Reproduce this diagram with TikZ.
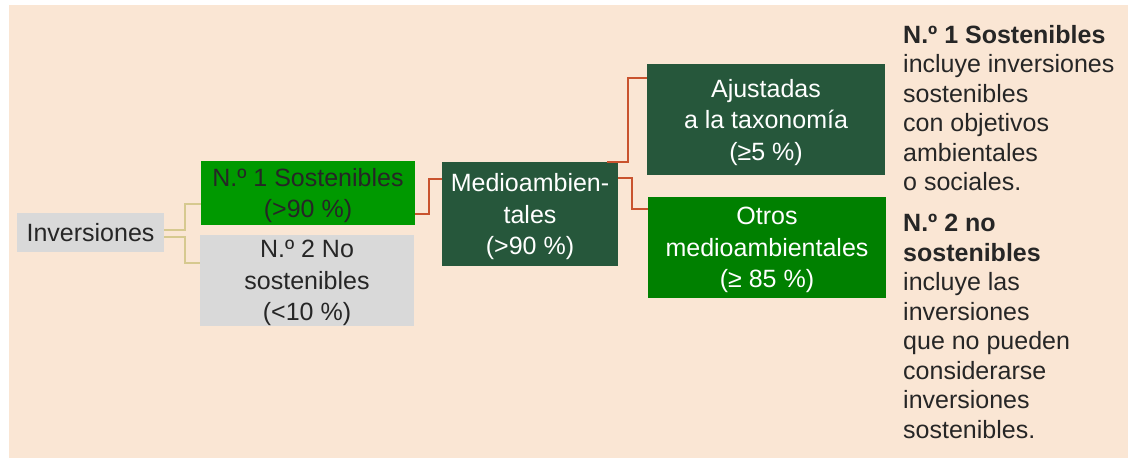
\documentclass[tikz,border=0pt]{standalone}
\usepackage{fontspec}
\setmainfont{Liberation Sans}
\usetikzlibrary{positioning}
\definecolor{peach}{HTML}{FAE6D4}
\definecolor{boxgrey}{HTML}{D9D9D9}
\definecolor{textdark}{HTML}{262626}
\definecolor{brightgreen}{HTML}{009900}
\definecolor{darkgreen}{HTML}{26573B}
\definecolor{midgreen}{HTML}{008000}
\definecolor{tanline}{HTML}{D6C98F}
\definecolor{redline}{HTML}{C9532E}
\tikzset{
  greybox/.style={fill=boxgrey, text=textdark, inner sep=0pt, text depth=0pt, align=center},
  sostbox/.style={fill=brightgreen, text=textdark, inner sep=0pt, text depth=0pt, align=center},
  medbox/.style={fill=darkgreen, text=white, inner sep=0pt, text depth=0pt, align=center},
  otrobox/.style={fill=midgreen, text=white, inner sep=0pt, text depth=0pt, align=center},
  tanlink/.style={draw=tanline, line width=2pt},
  redlink/.style={draw=redline, line width=2pt},
  notetext/.style={text=textdark, inner sep=0pt, align=left, anchor=north west, font=\fontsize{25}{29.5}\selectfont}
}
\begin{document}
\begin{tikzpicture}[x=1pt, y=-1pt, every node/.style={font=\fontsize{25}{31.5}\selectfont}]
  \fill[white] (0,0) rectangle (1135,461);
  \useasboundingbox (0,0) rectangle (1135,461);
  \fill[peach] (9,5) rectangle (1128,458);
  \node[greybox, minimum width=147pt, minimum height=39pt] (inv) at (90.5,232.5) {Inversiones};
  \node[sostbox, minimum width=214pt, minimum height=64pt] (sost) at (308,193) {N.º 1 Sostenibles\\(>90 \%)};
  \node[greybox, minimum width=214pt, minimum height=91pt] (nosost) at (307,280.5) {N.º 2 No\\sostenibles\\(<10 \%)};
  \node[medbox, minimum width=176pt, minimum height=104pt] (medio) at (530,214) {Medioambien-\\tales\\(>90 \%)};
  \node[medbox, minimum width=238pt, minimum height=111pt] (ajust) at (766,119.5) {Ajustadas\\a la taxonomía\\(≥5 \%)};
  \node[otrobox, minimum width=238pt, minimum height=101pt] (otros) at (767,247.5) {Otros\\medioambientales\\(≥ 85 \%)};
  \draw[tanlink] ([yshift=2.5pt]inv.east) -- ++(21,0) |- ([yshift=-11pt]sost.west);
  \draw[tanlink] ([yshift=-4.5pt]inv.east) -- ++(21,0) |- ([yshift=17.5pt]nosost.west);
  \draw[redlink] ([yshift=-21pt]sost.east) -- ++(14,0) |- ([yshift=35pt]medio.west);
  \draw[redlink] ([xshift=-11pt]medio.north east) -- ++(21,0) |- ([yshift=41.5pt]ajust.west);
  \draw[redlink] ([yshift=36pt]medio.east) -- ++(14,0) |- ([yshift=38.5pt]otros.west);
  \node[notetext] (note1) at (903,25) {\textbf{N.º 1 Sostenibles}\\incluye inversiones\\sostenibles\\con objetivos\\ambientales\\o sociales.};
  \node[notetext] (note2) at (903,214) {\textbf{N.º 2 no}\\\textbf{sostenibles}\\incluye las\\inversiones\\que no pueden\\considerarse\\inversiones\\sostenibles.};
\end{tikzpicture}
\end{document}
